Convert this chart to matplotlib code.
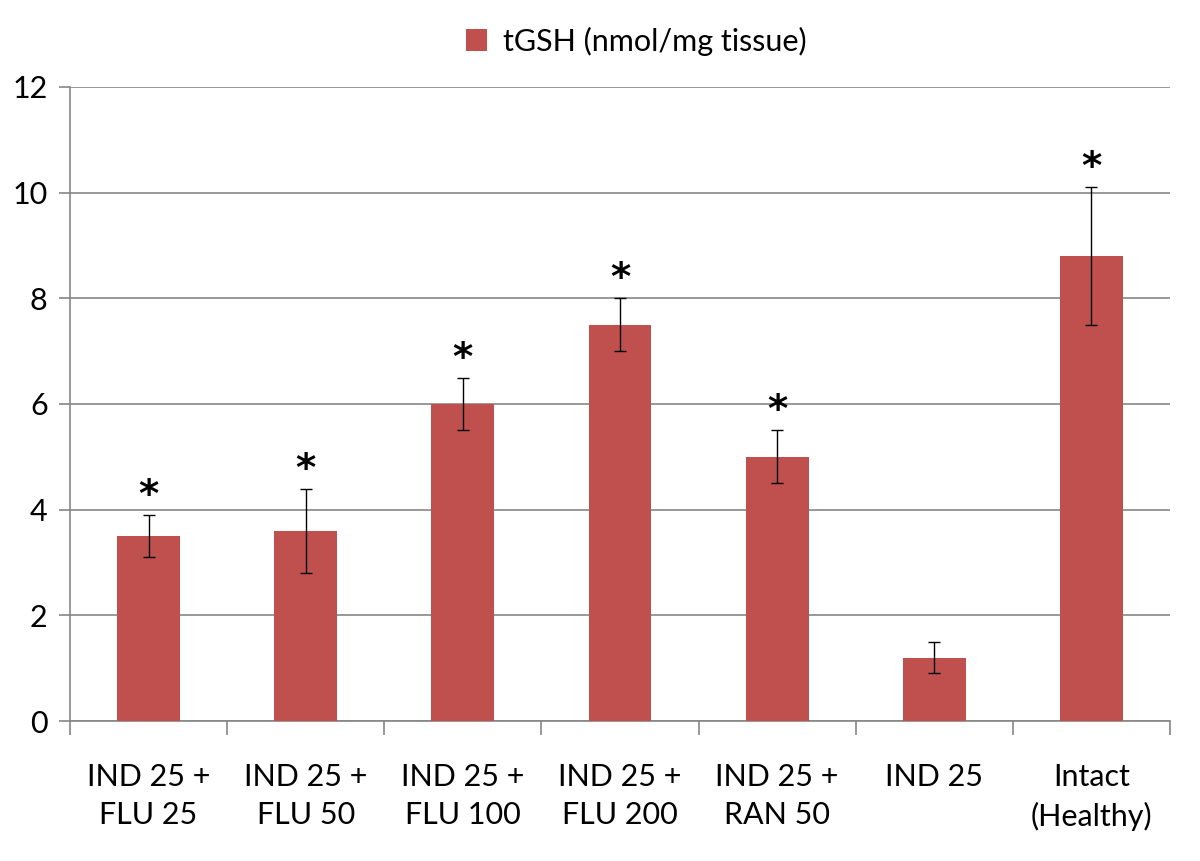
import matplotlib.pyplot as plt
import numpy as np

plt.rcParams['font.family'] = ['Lato', 'DejaVu Sans']

# data
groups = ["IND 25 +\nFLU 25", "IND 25 +\nFLU 50", "IND 25 +\nFLU 100", "IND 25 +\nFLU 200",
          "IND 25 +\nRAN 50", "IND 25", "Intact\n(Healthy)"]
tgsh = [3.5, 3.6, 6.0, 7.5, 5.0, 1.2, 8.8]
tgsh_err = [0.4, 0.8, 0.5, 0.5, 0.5, 0.3, 1.3]
significant = [True, True, True, True, True, False, True]

fig = plt.figure(figsize=(12, 8.61), dpi=100)
ax = fig.add_axes([0.0583, 0.1626, 0.9167, 0.7364])

x = np.arange(len(groups))
ax.bar(x, tgsh, width=0.4, color="#C0504D", zorder=3, label="tGSH (nmol/mg tissue)")
ax.errorbar(x, tgsh, yerr=tgsh_err, fmt="none", ecolor="black", elinewidth=1,
            capsize=4, capthick=1, zorder=4)

for xi, v, e, s in zip(x, tgsh, tgsh_err, significant):
    if s:
        ax.annotate("*", (xi, v + e), xytext=(0, 0), textcoords="offset points",
                    ha="center", va="bottom", fontsize=28, fontweight="bold",
                    family="DejaVu Sans")

ax.set_xlim(-0.5, len(groups) - 0.5)
ax.set_ylim(0, 12)
ax.set_yticks(np.arange(0, 13, 2))
ax.yaxis.grid(True, color="#868686", linewidth=1.2, zorder=0)

ax.set_xticks(x)
ax.set_xticklabels(groups, fontsize=22, linespacing=1.45)
ax.set_xticks(np.arange(-0.5, len(groups)), minor=True)
ax.tick_params(axis="x", which="major", length=0, pad=30)
ax.tick_params(axis="x", which="minor", length=10, color="#868686", width=1.2)
ax.tick_params(axis="y", length=8, color="#868686", width=1.2, labelsize=22, pad=8)

for side in ["top", "right"]:
    ax.spines[side].set_visible(False)
for side in ["left", "bottom"]:
    ax.spines[side].set_color("#868686")
    ax.spines[side].set_linewidth(1.2)

fig.legend(loc="center", bbox_to_anchor=(0.53, 0.952), frameon=False, fontsize=22,
           handlelength=0.7, handleheight=0.7, handletextpad=0.5)

fig.savefig("out.png", dpi=100)
